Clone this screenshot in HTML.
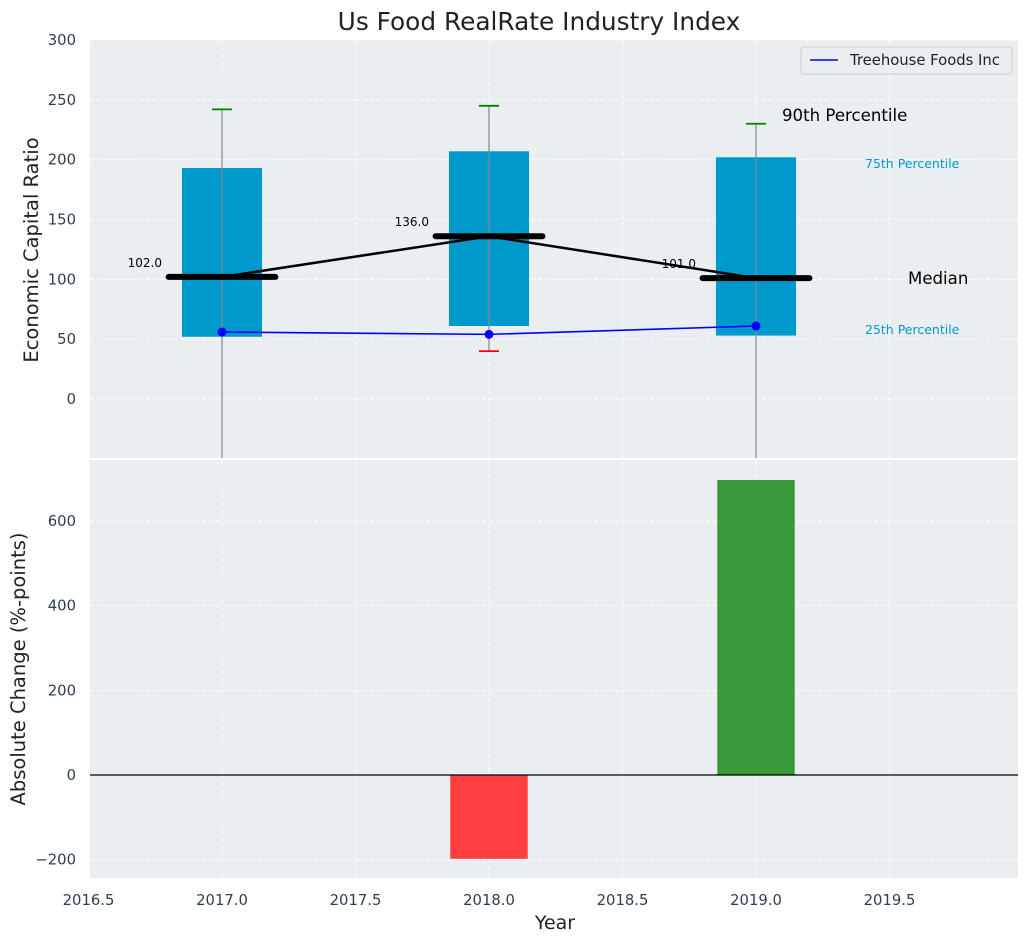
<!DOCTYPE html>
<html><head><meta charset="utf-8"><style>
body{margin:0;background:#fff;font-family:"DejaVu Sans","Liberation Sans",sans-serif}
</style></head><body>
<svg id="c" width="1029" height="942" xmlns="http://www.w3.org/2000/svg" font-family="DejaVu Sans, Liberation Sans, sans-serif"></svg>
<script>
const years=[2017,2018,2019];
const q25=[52,61,53];
const q75=[193,207,202];
const p90=[242,245,230];
const p10=[-60,40,-60];
const medians=[102,136,101];
const company=[56,54,61];
const changes=[0,-198,697];
const xTicks=[2016.5,2017,2017.5,2018,2018.5,2019,2019.5];
const yTopTicks=[0,50,100,150,200,250,300];
const yBotTicks=[-200,0,200,400,600];

const svg=document.getElementById('c');
const NS='http://www.w3.org/2000/svg';
function el(t,a,txt){const e=document.createElementNS(NS,t);for(const k in a)e.setAttribute(k,a[k]);if(txt!==undefined)e.textContent=txt;svg.appendChild(e);return e;}
const L=90,R=1018;
const X=v=>222+(v-2017)*267;
const T0=40,T1=458,B0=460,B1=878;
const Yt=v=>399-v*1.1967;
const Yb=v=>775-v*0.4233;

let e;
e=el('rect',{x:L,y:T0,width:R-L,height:T1-T0,fill:'#eaeef0'});

e=el('rect',{x:L,y:B0,width:R-L,height:B1-B0,fill:'#eaeef0'});

xTicks.forEach(t=>{
 e=el('line',{x1:X(t),x2:X(t),y1:T0,y2:T1,stroke:'#fff','stroke-dasharray':'4,3'});
 
 e=el('line',{x1:X(t),x2:X(t),y1:B0,y2:B1,stroke:'#fff','stroke-dasharray':'4,3'});
 
 e=el('text',{x:X(t),y:905,'text-anchor':'middle','font-size':14.8,fill:'#2d3e50'},t.toFixed(1));
 
});
yTopTicks.forEach(t=>{
 e=el('line',{x1:L,x2:R,y1:Yt(t),y2:Yt(t),stroke:'#fff','stroke-dasharray':'4,3'});
 
 e=el('text',{x:76,y:Yt(t)+5,'text-anchor':'end','font-size':14.8,fill:'#2d3e50'},t);
 
});
yBotTicks.forEach(t=>{
 e=el('line',{x1:L,x2:R,y1:Yb(t),y2:Yb(t),stroke:'#fff','stroke-dasharray':'4,3'});
 
 e=el('text',{x:76,y:Yb(t)+5,'text-anchor':'end','font-size':14.8,fill:'#2d3e50'},t<0?'\u2212'+(-t):t);
 
});
const clipT=v=>Math.min(T1,Yt(v));
years.forEach((y,i)=>{
 e=el('rect',{x:X(y-0.15),y:Yt(q75[i]),width:X(y+0.15)-X(y-0.15),height:Yt(q25[i])-Yt(q75[i]),fill:'#0099cc'});
 
 e=el('line',{x1:X(y),x2:X(y),y1:Yt(p90[i]),y2:clipT(p10[i]),stroke:'#888','stroke-width':1.2});
 
 e=el('line',{x1:X(y)-10,x2:X(y)+10,y1:Yt(p90[i]),y2:Yt(p90[i]),stroke:'green','stroke-width':1.8});
 
 if(Yt(p10[i])<T1){
  e=el('line',{x1:X(y)-10,x2:X(y)+10,y1:Yt(p10[i]),y2:Yt(p10[i]),stroke:'red','stroke-width':1.8});
  
 }
});
e=el('polyline',{points:years.map((y,i)=>X(y)+','+Yt(medians[i])).join(' '),fill:'none',stroke:'#000','stroke-width':2.5});

years.forEach((y,i)=>{
 e=el('line',{x1:X(y-0.2),x2:X(y+0.2),y1:Yt(medians[i]),y2:Yt(medians[i]),stroke:'#000','stroke-width':6,'stroke-linecap':'round'});
 
 e=el('text',{x:X(y)-60,y:Yt(medians[i])-10,'text-anchor':'end','font-size':12,fill:'#000'},medians[i].toFixed(1));
 
});
e=el('polyline',{points:years.map((y,i)=>X(y)+','+Yt(company[i])).join(' '),fill:'none',stroke:'#0000ff','stroke-width':1.6});

years.forEach((y,i)=>{
 e=el('circle',{cx:X(y),cy:Yt(company[i]),r:4.5,fill:'#0000ff'});
 
});
[[782,121,'90th Percentile',16.6,'#000','p90-annotation'],[865,168,'75th Percentile',12.5,'#0099cc','p75-annotation'],[908,284,'Median',16.6,'#000','median-annotation'],[865,334,'25th Percentile',12.5,'#0099cc','p25-annotation']].forEach(a=>{
 e=el('text',{x:a[0],y:a[1],'font-size':a[3],fill:a[4]},a[2]);
 
});
years.forEach((y,i)=>{
 const v=changes[i];if(!v)return;
 e=el('rect',{x:X(y-0.145),y:Math.min(Yb(v),Yb(0)),width:X(y+0.145)-X(y-0.145),height:Math.abs(Yb(v)-Yb(0)),fill:v<0?'#ff3f3f':'#3a9a3a'});
 
});
e=el('line',{x1:L,x2:R,y1:Yb(0),y2:Yb(0),stroke:'#000','stroke-width':1.2});

e=el('rect',{x:801,y:47,width:211,height:27,fill:'#eaeef0',stroke:'#ccc',rx:3});

e=el('line',{x1:810,x2:838,y1:60,y2:60,stroke:'#0000ff','stroke-width':1.6});

e=el('text',{x:850,y:65,'font-size':14.8,fill:'#222'},'Treehouse Foods Inc');

e=el('text',{x:539,y:30,'text-anchor':'middle','font-size':24.8,fill:'#222'},'Us Food RealRate Industry Index');

e=el('text',{x:555,y:929,'text-anchor':'middle','font-size':19,fill:'#222'},'Year');

e=el('text',{x:38,y:250,'text-anchor':'middle','font-size':19.5,fill:'#222',transform:'rotate(-90 38 250)'},'Economic Capital Ratio');

e=el('text',{x:25,y:669,'text-anchor':'middle','font-size':19.5,fill:'#222',transform:'rotate(-90 25 669)'},'Absolute Change (%-points)');

</script>
</body></html>
